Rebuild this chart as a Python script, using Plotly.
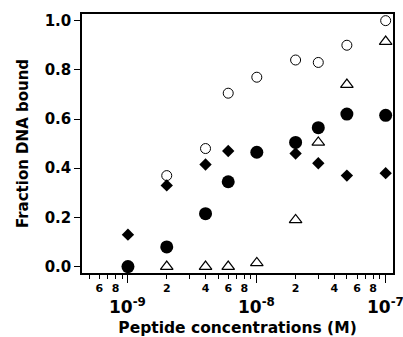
import numpy as np
import plotly.graph_objects as go

open_circle_x = [2e-9, 4e-9, 6e-9, 1e-8, 2e-8, 3e-8, 5e-8, 1e-7]
open_circle_y = [0.37, 0.48, 0.705, 0.77, 0.84, 0.83, 0.90, 1.0]

triangle_x = [2e-9, 4e-9, 6e-9, 1e-8, 2e-8, 3e-8, 5e-8, 1e-7]
triangle_y = [0.0, 0.0, 0.0, 0.015, 0.19, 0.505, 0.74, 0.915]

filled_circle_x = [1e-9, 2e-9, 4e-9, 6e-9, 1e-8, 2e-8, 3e-8, 5e-8, 1e-7]
filled_circle_y = [0.0, 0.08, 0.215, 0.345, 0.465, 0.505, 0.565, 0.62, 0.615]

diamond_x = [1e-9, 2e-9, 4e-9, 6e-9, 2e-8, 3e-8, 5e-8, 1e-7]
diamond_y = [0.13, 0.33, 0.415, 0.47, 0.46, 0.42, 0.37, 0.38]

minor_tick_vals = [5e-10, 6e-10, 7e-10, 8e-10, 9e-10,
                   2e-9, 3e-9, 4e-9, 5e-9, 6e-9, 7e-9, 8e-9, 9e-9,
                   2e-8, 3e-8, 4e-8, 5e-8, 6e-8, 7e-8, 8e-8, 9e-8]
minor_tick_text = ["", "6", "", "8", "",
                   "2", "", "4", "", "6", "", "8", "",
                   "2", "", "4", "", "6", "", "8", ""]
decade_vals = [1e-9, 1e-8, 1e-7]
decade_text = ["10<sup>-9</sup>", "10<sup>-8</sup>", "10<sup>-7</sup>"]

y_ticks = [0.0, 0.2, 0.4, 0.6, 0.8, 1.0]

FONT = "DejaVu Sans, Arial, sans-serif"

fig = go.Figure()
fig.add_trace(go.Scatter(x=open_circle_x, y=open_circle_y, mode="markers",
                         marker=dict(symbol="circle-open", size=10, color="black",
                                     line=dict(width=1, color="black"))))
fig.add_trace(go.Scatter(x=triangle_x, y=triangle_y, mode="markers",
                         marker=dict(symbol="triangle-up-open", size=11, color="black",
                                     line=dict(width=1.2, color="black"))))
fig.add_trace(go.Scatter(x=filled_circle_x, y=filled_circle_y, mode="markers",
                         marker=dict(symbol="circle", size=13, color="black")))
fig.add_trace(go.Scatter(x=diamond_x, y=diamond_y, mode="markers",
                         marker=dict(symbol="diamond", size=9.5, color="black")))

for v, t in zip(decade_vals, decade_text):
    fig.add_annotation(x=np.log10(v), y=0, xref="x", yref="paper",
                       text=t, showarrow=False, yanchor="top", yshift=-20,
                       xanchor="center",
                       font=dict(family=FONT, size=17, color="black", weight="bold"))

fig.update_layout(
    width=403, height=337,
    margin=dict(l=82, r=10, t=14, b=64),
    paper_bgcolor="white", plot_bgcolor="white",
    showlegend=False,
    font=dict(family=FONT, color="black"),
    xaxis=dict(
        type="log", range=[np.log10(4.4e-10), np.log10(1.14e-7)],
        automargin=False,
        tickmode="array", tickvals=minor_tick_vals, ticktext=minor_tick_text,
        ticks="outside", ticklen=4, tickwidth=1, tickcolor="black",
        tickfont=dict(family=FONT, size=11, color="black", weight="bold"),
        minor=dict(tickmode="array", tickvals=decade_vals, ticks="outside",
                   ticklen=8, tickwidth=1.2, tickcolor="black"),
        showline=True, linecolor="black", linewidth=1.5, mirror=True,
        showgrid=False, zeroline=False,
        title=dict(text="Peptide concentrations (M)", standoff=28,
                   font=dict(family=FONT, size=15.5, color="black", weight="bold")),
    ),
    yaxis=dict(
        range=[-0.026, 1.027],
        automargin=False,
        tickmode="array", tickvals=y_ticks,
        tickformat=".1f",
        ticks="outside", ticklen=6, tickwidth=1, tickcolor="black",
        tickfont=dict(family=FONT, size=15, color="black", weight="bold"),
        showline=True, linecolor="black", linewidth=1.5, mirror=True,
        showgrid=False, zeroline=False,
        title=dict(text="Fraction DNA bound", standoff=12,
                   font=dict(family=FONT, size=15, color="black", weight="bold")),
    ),
)

fig.write_html("out.html", config={"displayModeBar": False},
               post_script="document.body.style.margin='0';")
